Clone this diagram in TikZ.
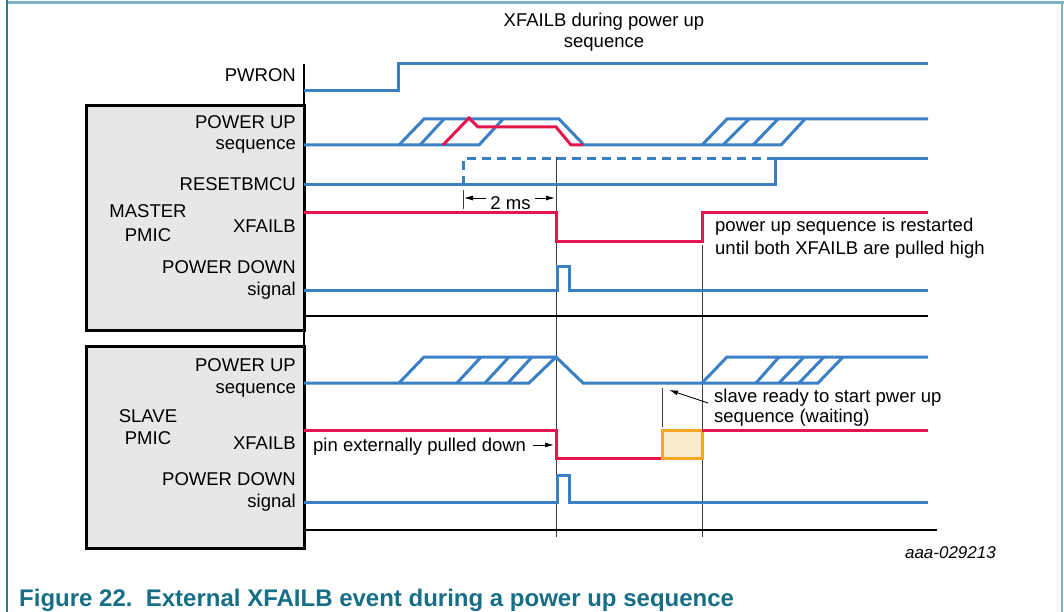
\documentclass[tikz,border=0pt]{standalone}
\usepackage{fontspec}
\setmainfont{Liberation Sans}
\usetikzlibrary{arrows.meta}

\definecolor{sigblue}{RGB}{59,128,198}
\definecolor{sigred}{RGB}{228,22,76}
\definecolor{waitorange}{RGB}{245,166,35}
\definecolor{waitfill}{RGB}{250,235,202}
\definecolor{pmicgray}{RGB}{230,231,231}
\definecolor{framelight}{RGB}{127,181,192}
\definecolor{framedark}{RGB}{40,125,145}
\definecolor{capteal}{RGB}{22,110,135}
\definecolor{markgray}{RGB}{60,60,60}

\newcommand\lblfont{\fontsize{18.5}{22}\selectfont}

\tikzset{
  bluesig/.style={draw=sigblue, line width=3pt},
  redsig/.style={draw=sigred, line width=3pt},
  pmicbox/.style={fill=pmicgray, draw=black, line width=3pt},
  marker/.style={draw=markgray, line width=0.9pt},
  axisline/.style={draw=black, line width=1.3pt},
  lbl/.style={anchor=base east, inner sep=0pt, font=\lblfont},
  note/.style={anchor=base west, inner sep=0pt, font=\lblfont},
  ptr/.style={draw=black, line width=0.9pt, -{Latex[length=9pt,width=5pt]}}
}

\begin{document}
\begin{tikzpicture}[x=1pt, y=-1pt]

                \useasboundingbox (0,0) rectangle (1064,612);

                \draw[framelight, line width=3pt] (7,3) -- (1064,3);
                \draw[framedark, line width=2pt] (7,0) -- (7,612);
                \draw[framelight, line width=2pt] (1062,3) -- (1062,612);

                \node[anchor=base, inner sep=0pt, font=\lblfont] (title1) at (604,26.5) {XFAILB during power up};
                \node[anchor=base, inner sep=0pt, font=\lblfont] (title2) at (604,48) {sequence};

                \draw[pmicbox] (86,106) rectangle (304,330);
                \draw[pmicbox] (86,346) rectangle (304,548);
                \draw[line width=1.4pt] (304,64) -- (304,106);
                \draw[line width=1.4pt] (304,330) -- (304,346);

                \draw[marker] (556,157) -- (556,537);
                \draw[marker] (702,245) -- (702,537);
                \draw[marker] (662,388) -- (662,427);
                \draw[marker] (463,190) -- (463,209);

                \node[lbl] (pwron) at (296,81.5) {PWRON};
                \draw[bluesig] (304,91) -- (398,91) -- (398,64) -- (928,64);

                \node[lbl] (mpu1) at (296,128.5) {POWER UP};
                \node[lbl] (mpu2) at (296,150) {sequence};
                \node[lbl] (mrst) at (296,190.5) {RESETBMCU};
                \node[anchor=base, inner sep=0pt, font=\lblfont] (master) at (148,217.5) {MASTER};
                \node[anchor=base, inner sep=0pt, font=\lblfont] (mpmic) at (148,241.5) {PMIC};
                \node[lbl] (mxf) at (296,232.5) {XFAILB};
                \node[lbl] (mpd1) at (296,273.5) {POWER DOWN};
                \node[lbl] (mpd2) at (296,295) {signal};

                \draw[bluesig] (304,145) -- (399,145) -- (424,119) -- (559,119) -- (584,145) -- (781,145) -- (805,119);
                \draw[bluesig] (399,145) -- (479,145) -- (503,119);
                \draw[bluesig] (420,145) -- (444,119);
                \draw[bluesig] (702,145) -- (727,119) -- (928,119);
                \draw[bluesig] (723,145) -- (749,119);
                \draw[bluesig] (753,145) -- (778,119);
                \draw[redsig] (443,145) -- (469,118) -- (478,127) -- (556,127) -- (571,145) -- (583,145);

                \draw[bluesig] (304,185) -- (775,185) -- (775,159) -- (928,159);
                \draw[bluesig, dash pattern=on 9pt off 6pt] (463,185) -- (463,159) -- (775,159);

                \coordinate (tickL) at (464,198);
                \coordinate (tickR) at (555,198);
                \node[anchor=base, inner sep=0pt, font=\lblfont] (twoms) at (510.5,210) {2 ms};
                \draw[ptr] (486,198) -- (tickL);
                \draw[ptr] (535,198) -- (tickR);

                \draw[redsig] (304,213) -- (556,213) -- (556,241) -- (702,241) -- (702,213) -- (928,213);
                \node[note] (restart1) at (715,232) {power up sequence is restarted};
                \node[note] (restart2) at (715,254) {until both XFAILB are pulled high};

                \draw[bluesig] (304,290) -- (557,290) -- (557,266) -- (569,266) -- (569,290) -- (928,290);
                \draw[axisline] (304,316) -- (928,316);

                \node[lbl] (spu1) at (296,371.5) {POWER UP};
                \node[lbl] (spu2) at (296,393) {sequence};
                \node[anchor=base, inner sep=0pt, font=\lblfont] (slave) at (148,422.5) {SLAVE};
                \node[anchor=base, inner sep=0pt, font=\lblfont] (spmic) at (148,444.5) {PMIC};
                \node[lbl] (sxf) at (296,449.5) {XFAILB};
                \node[lbl] (spd1) at (296,485.5) {POWER DOWN};
                \node[lbl] (spd2) at (296,507) {signal};

                \draw[bluesig] (304,383) -- (529,383) -- (556,357) -- (583,383) -- (818,383) -- (843,357);
                \draw[bluesig] (399,383) -- (424,357) -- (556,357);
                \draw[bluesig] (457,383) -- (481,357);
                \draw[bluesig] (485,383) -- (509,357);
                \draw[bluesig] (508,383) -- (532,357);
                \draw[bluesig] (702,383) -- (727,357) -- (928,357);
                \draw[bluesig] (756,383) -- (779,357);
                \draw[bluesig] (779,383) -- (804,357);
                \draw[bluesig] (799,383) -- (824,357);

                \node[note] (ready1) at (714,402) {slave ready to start pwer up};
                \node[note] (ready2) at (714,422) {sequence (waiting)};
                \coordinate (readytip) at (669,390);
                \draw[ptr] (708,403) -- (readytip);

                \draw[redsig] (304,430) -- (556,430) -- (556,458) -- (662,458);
                \draw[fill=waitfill, draw=waitorange, line width=3pt] (662,430) rectangle (702,458);
                \draw[redsig] (702,430) -- (928,430);
                \node[note] (pulled) at (313,451) {pin externally pulled down};
                \coordinate (droptip) at (554,445);
                \draw[ptr] (533,445) -- (droptip);

                \draw[bluesig] (304,502) -- (557,502) -- (557,475) -- (569,475) -- (569,502) -- (928,502);
                \draw[axisline] (304,530) -- (937,530);

                \node[anchor=base east, inner sep=0pt, font=\fontsize{17}{20}\selectfont\itshape] (docid) at (996,558) {aaa-029213};
                \node[anchor=base west, inner sep=0pt, text=capteal, font=\fontsize{24}{28}\selectfont\bfseries] (caption) at (19,606) {Figure 22.\ \ External XFAILB event during a power up sequence};

            \end{tikzpicture}
\end{document}
